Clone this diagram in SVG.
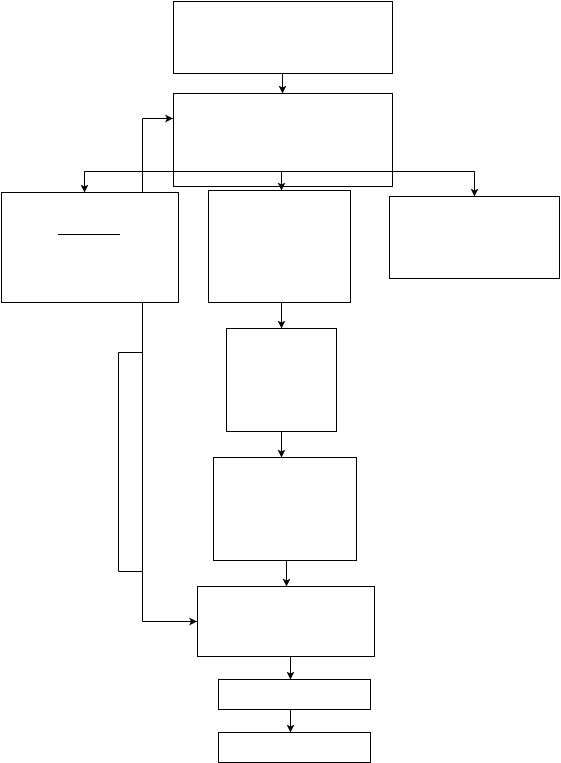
<svg xmlns="http://www.w3.org/2000/svg" width="561" height="763" viewBox="0 0 561 763">
<style>
.box{fill:#fff;stroke:#000;stroke-width:1}
.open{fill:none;stroke:#000;stroke-width:1}
.con{fill:none;stroke:#000;stroke-width:1}
</style>
<defs>
<marker id="ah" markerUnits="userSpaceOnUse" markerWidth="9" markerHeight="9" refX="8" refY="4" orient="auto" viewBox="0 0 9 8">
<path d="M0,0 L8,4 L0,8 L2,4 z" fill="#000"/>
</marker>
</defs>
<rect width="561" height="763" fill="#fff"/>
<g id="nodes-back">
<g id="n1"><rect class="box" x="173.5" y="1.5" width="219" height="72"/></g>
</g>
<g id="connectors">
<line class="con" x1="282.5" y1="73.5" x2="282.5" y2="93.5" marker-end="url(#ah)"/>
<polyline class="con" points="84.5,192 84.5,171.5 474.5,171.5 474.5,196" />
<line class="con" x1="84.5" y1="171.5" x2="84.5" y2="192.5" marker-end="url(#ah)"/>
<line class="con" x1="474.5" y1="171.5" x2="474.5" y2="196.5" marker-end="url(#ah)"/>
<line class="con" x1="281.5" y1="171.5" x2="281.5" y2="190.5" marker-end="url(#ah)"/>
<polyline class="con" points="142.5,192.5 142.5,118.5 173,118.5" marker-end="url(#ah)"/>
<polyline class="con" points="142.5,302.5 142.5,621.5 197,621.5" marker-end="url(#ah)"/>
<polyline class="con" points="142.5,352.5 118.5,352.5 118.5,571.5 142.5,571.5"/>
<line class="con" x1="281.5" y1="302.5" x2="281.5" y2="328.5" marker-end="url(#ah)"/>
<line class="con" x1="281.5" y1="431.5" x2="281.5" y2="457.5" marker-end="url(#ah)"/>
<line class="con" x1="286.5" y1="560.5" x2="286.5" y2="586.5" marker-end="url(#ah)"/>
<line class="con" x1="290.5" y1="656.5" x2="290.5" y2="679.5" marker-end="url(#ah)"/>
<line class="con" x1="290.5" y1="709.5" x2="290.5" y2="732.5" marker-end="url(#ah)"/>
</g>
<g id="nodes">
<g id="n2"><rect class="open" x="173.5" y="93.5" width="219" height="93"/></g>
<g id="n3"><rect class="box" x="1.5" y="192.5" width="177" height="110"/><line class="con" x1="58" y1="234.5" x2="120" y2="234.5"/></g>
<g id="n4"><rect class="box" x="208.5" y="190.5" width="142" height="112"/></g>
<g id="n5"><rect class="box" x="389.5" y="196.5" width="170" height="82"/></g>
<g id="n6"><rect class="box" x="226.5" y="328.5" width="110" height="103"/></g>
<g id="n7"><rect class="box" x="213.5" y="457.5" width="143" height="103"/></g>
<g id="n8"><rect class="box" x="197.5" y="586.5" width="177" height="70"/></g>
<g id="n9"><rect class="box" x="218.5" y="679.5" width="152" height="30"/></g>
<g id="n10"><rect class="box" x="218.5" y="732.5" width="152" height="30"/></g>
</g>
</svg>
